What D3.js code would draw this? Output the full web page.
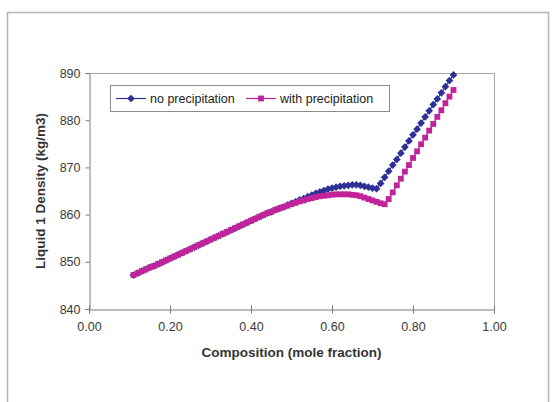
<!DOCTYPE html>
<html>
<head>
<meta charset="utf-8">
<script src="https://cdn.jsdelivr.net/npm/d3@7"></script>
<style>
  body { margin: 0; background: #fff; }
  svg { display: block; font-family: "Liberation Sans", Arial, sans-serif; }
</style>
</head>
<body>
<div id="chart"></div>
<script>
// composition (mole fraction)
const composition = [
  0.11, 0.12, 0.13, 0.14, 0.15, 0.16, 0.17, 0.18, 0.19, 0.20,
  0.21, 0.22, 0.23, 0.24, 0.25, 0.26, 0.27, 0.28, 0.29, 0.30,
  0.31, 0.32, 0.33, 0.34, 0.35, 0.36, 0.37, 0.38, 0.39, 0.40,
  0.41, 0.42, 0.43, 0.44, 0.45, 0.46, 0.47, 0.48, 0.49, 0.50,
  0.51, 0.52, 0.53, 0.54, 0.55, 0.56, 0.57, 0.58, 0.59, 0.60,
  0.61, 0.62, 0.63, 0.64, 0.65, 0.66, 0.67, 0.68, 0.69, 0.70,
  0.71, 0.72, 0.73, 0.74, 0.75, 0.76, 0.77, 0.78, 0.79, 0.80,
  0.81, 0.82, 0.83, 0.84, 0.85, 0.86, 0.87, 0.88, 0.89, 0.90
];
const noPrecipitation = [
  847.2, 847.6, 848.0, 848.4, 848.8, 849.1, 849.5, 849.9, 850.3, 850.7,
  851.1, 851.5, 851.9, 852.3, 852.7, 853.1, 853.5, 853.9, 854.3, 854.7,
  855.1, 855.5, 855.9, 856.3, 856.7, 857.1, 857.5, 857.9, 858.3, 858.7,
  859.1, 859.5, 859.9, 860.3, 860.6, 861.0, 861.3, 861.6, 862.0, 862.4,
  862.7, 863.1, 863.4, 863.8, 864.1, 864.5, 864.8, 865.1, 865.4, 865.6,
  865.8, 866.0, 866.1, 866.2, 866.3, 866.3, 866.2, 866.0, 865.8, 865.6,
  865.5, 866.6, 867.9, 869.2, 870.5, 871.7, 873.0, 874.3, 875.6, 876.9,
  878.1, 879.4, 880.7, 882.0, 883.3, 884.5, 885.8, 887.1, 888.4, 889.6
];
const withPrecipitation = [
  847.2, 847.6, 848.0, 848.4, 848.8, 849.1, 849.5, 849.9, 850.3, 850.7,
  851.1, 851.5, 851.9, 852.3, 852.7, 853.1, 853.5, 853.9, 854.3, 854.7,
  855.1, 855.5, 855.9, 856.3, 856.7, 857.1, 857.5, 857.9, 858.3, 858.7,
  859.1, 859.5, 859.9, 860.3, 860.6, 861.0, 861.3, 861.6, 861.9, 862.2,
  862.5, 862.8, 863.0, 863.3, 863.5, 863.7, 863.9, 864.0, 864.1, 864.2,
  864.3, 864.3, 864.3, 864.3, 864.2, 864.1, 863.9, 863.6, 863.3, 863.0,
  862.7, 862.4, 862.2, 863.3, 864.7, 866.2, 867.6, 869.1, 870.5, 872.0,
  873.4, 874.9, 876.3, 877.8, 879.2, 880.7, 882.1, 883.6, 885.0, 886.4
];
const xTicks = [0, 0.2, 0.4, 0.6, 0.8, 1.0];
const yTicks = [840, 850, 860, 870, 880, 890];
const seriesNames = ["no precipitation", "with precipitation"];

const W = 560, H = 402;
const plot = { left: 89, right: 494, top: 73, bottom: 309 };
const blue = "#2f3096", pink = "#c2239b";

const svg = d3.select("#chart").append("svg").attr("width", W).attr("height", H);

// outer chart frame (bottom runs off the picture)
svg.append("path")
  .attr("d", `M7.5,${H} V12.5 H548.5 V${H}`)
  .attr("fill", "none").attr("stroke", "#b4b4b4").attr("stroke-width", 1.5);

const x = d3.scaleLinear().domain([0, 1]).range([plot.left, plot.right]);
const y = d3.scaleLinear().domain([840, 890]).range([plot.bottom, plot.top]);

// plot area border (top + right)
svg.append("path")
  .attr("d", `M${plot.left},${plot.top + 0.5} H${plot.right + 0.5} V${plot.bottom}`)
  .attr("fill", "none").attr("stroke", "#a8a8a8");

// axes
const xAxis = svg.append("g")
  .attr("transform", `translate(0,${plot.bottom + 0.5})`)
  .call(d3.axisBottom(x).tickValues(xTicks).tickFormat(d3.format(".2f")).tickSize(4).tickPadding(9));
xAxis.selectAll(".tick line").attr("y1", -4);

const yAxis = svg.append("g")
  .attr("transform", `translate(${plot.left + 0.5},0)`)
  .call(d3.axisLeft(y).tickValues(yTicks).tickSize(4).tickPadding(5));

[xAxis, yAxis].forEach(a => {
  a.select(".domain").attr("stroke", "#7a7a7a");
  a.selectAll(".tick line").attr("stroke", "#7a7a7a");
  a.selectAll("text").attr("font-size", 12.5).attr("fill", "#3a3a3a")
    .attr("font-family", "Liberation Sans, Arial, sans-serif");
});

// axis titles
svg.append("text")
  .attr("x", x(0.5)).attr("y", 357)
  .attr("text-anchor", "middle").attr("font-size", 13.5).attr("font-weight", "bold").attr("fill", "#333")
  .text("Composition (mole fraction)");

svg.append("text")
  .attr("transform", `translate(45,${(plot.top + plot.bottom) / 2}) rotate(-90)`)
  .attr("text-anchor", "middle").attr("font-size", 13.5).attr("font-weight", "bold").attr("fill", "#333")
  .text("Liquid 1 Density (kg/m3)");

// series (diamond = square rotated 45deg, as in the spreadsheet marker)
const series = [
  { name: seriesNames[0], values: noPrecipitation, color: blue, rot: 45, size: 30 },
  { name: seriesNames[1], values: withPrecipitation, color: pink, rot: 0, size: 34 }
];

const line = d3.line().x(d => x(d[0])).y(d => y(d[1]));
const marker = d3.symbol().type(d3.symbolSquare);

series.forEach(s => {
  const pts = composition.map((c, i) => [c, s.values[i]]);
  svg.append("path")
    .datum(pts)
    .attr("d", line)
    .attr("fill", "none").attr("stroke", s.color).attr("stroke-width", 1.2);
  svg.append("g").selectAll("path")
    .data(pts)
    .enter().append("path")
    .attr("transform", d => `translate(${x(d[0])},${y(d[1])}) rotate(${s.rot})`)
    .attr("d", marker.size(s.size)())
    .attr("fill", s.color);
});

// legend
const lg = svg.append("g").attr("transform", "translate(110,85)");
lg.append("rect")
  .attr("x", 0.5).attr("y", 0.5).attr("width", 279).attr("height", 26)
  .attr("fill", "#fff").attr("stroke", "#8c8c8c");

const legendItems = [
  { s: series[0], x0: 6 },
  { s: series[1], x0: 136 }
];
legendItems.forEach(it => {
  const g = lg.append("g").attr("transform", `translate(${it.x0},13.5)`);
  g.append("line").attr("x1", 0).attr("x2", 30).attr("stroke", it.s.color).attr("stroke-width", 1.2);
  g.append("path").attr("transform", `translate(15,0) rotate(${it.s.rot})`)
    .attr("d", marker.size(it.s.size)()).attr("fill", it.s.color);
  g.append("text").attr("x", 34).attr("y", 4.5)
    .attr("font-size", 12.5).attr("fill", "#222").text(it.s.name);
});
</script>
</body>
</html>
